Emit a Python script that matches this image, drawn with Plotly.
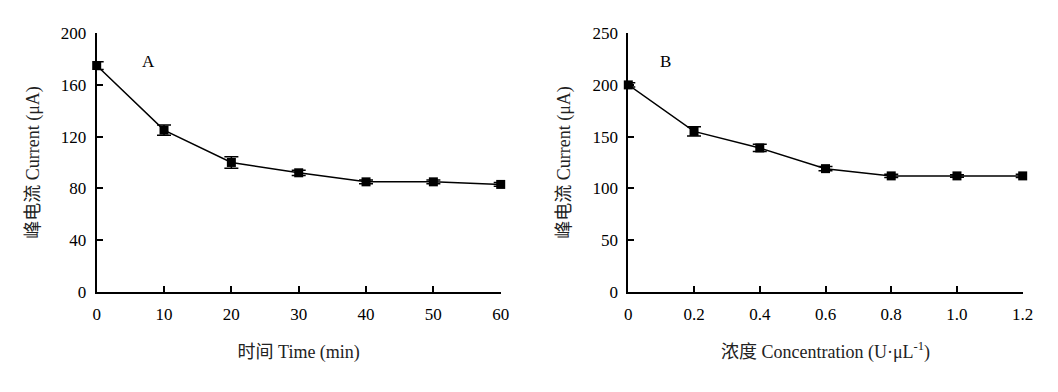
import plotly.graph_objects as go

# Panel A: time
time_min = [0, 10, 20, 30, 40, 50, 60]
current_a = [175, 125, 100, 92, 85, 85, 83]
err_a = [3, 4, 4.5, 2, 1.5, 1.5, 1.5]

# Panel B: concentration
conc = [0, 0.2, 0.4, 0.6, 0.8, 1.0, 1.2]
current_b = [200, 155, 139, 119, 112, 112, 112]
err_b = [2, 4.5, 3.5, 2, 1.5, 1.2, 1.5]

xticks_b = [0, 0.2, 0.4, 0.6, 0.8, 1.0, 1.2]
xticktext_b = ["0", "0.2", "0.4", "0.6", "0.8", "1.0", "1.2"]

FONT = "Liberation Serif, Times New Roman, Noto Sans CJK SC, serif"
OFF = 8  # page body margin
W, H = 1058 - OFF, 392 - OFF

fig = go.Figure()

def add_series(x, y, e, xa, ya):
    fig.add_trace(go.Scatter(
        x=x, y=y, xaxis=xa, yaxis=ya, mode="lines+markers",
        line=dict(color="black", width=1.5),
        marker=dict(symbol="square", size=9, color="black"),
        error_y=dict(type="data", array=e, visible=True, color="black",
                     thickness=1.5, width=7),
        cliponaxis=False, showlegend=False,
    ))

add_series(time_min, current_a, err_a, "x", "y")
add_series(conc, current_b, err_b, "x2", "y2")

def ax_common(label_gap):
    return dict(
        showline=True, linecolor="black", linewidth=2,
        ticks="inside", ticklen=6, tickwidth=1.5, tickcolor="black",
        showgrid=False, zeroline=False, automargin=False,
        ticklabelstandoff=label_gap,
        tickfont=dict(family=FONT, size=17, color="black"),
        title_font=dict(family=FONT, size=18, color="#222"),
    )

def px_dom(a, b):
    return [(a - OFF) / W, (b - OFF) / W]

def py_dom(top, bottom):
    return [1 - (bottom - OFF) / H, 1 - (top - OFF) / H]

fig.update_layout(
    width=W, height=H,
    margin=dict(l=0, r=0, t=0, b=0),
    plot_bgcolor="white", paper_bgcolor="white",
    font=dict(family=FONT, color="black"),
    xaxis=dict(domain=px_dom(96.7, 500.7), range=[0, 60], tickvals=time_min,
               title=dict(text="时间 Time (min)", standoff=22), anchor="y", **ax_common(6)),
    yaxis=dict(domain=py_dom(33.2, 291.7), range=[0, 200], dtick=40,
               title=dict(text="峰电流 Current (μA)", standoff=16), anchor="x", **ax_common(5)),
    xaxis2=dict(domain=px_dom(628.3, 1022.7), range=[0, 1.2], tickvals=xticks_b, ticktext=xticktext_b,
                title=dict(text="浓度 Concentration (U·μL<sup>-1</sup>)", standoff=22), anchor="y2",
                **ax_common(6)),
    yaxis2=dict(domain=py_dom(33.2, 291.7), range=[0, 250], dtick=50,
                title=dict(text="峰电流 Current (μA)", standoff=17), anchor="x2", **ax_common(5)),
    annotations=[
        dict(text="A", x=(140 - OFF) / W, y=1 - (50 - OFF) / H, xref="paper", yref="paper",
             showarrow=False, font=dict(family=FONT, size=17, color="black")),
        dict(text="B", x=(665 - OFF) / W, y=1 - (50 - OFF) / H, xref="paper", yref="paper",
             showarrow=False, font=dict(family=FONT, size=17, color="black")),
    ],
)

fig.write_html("out.html")
